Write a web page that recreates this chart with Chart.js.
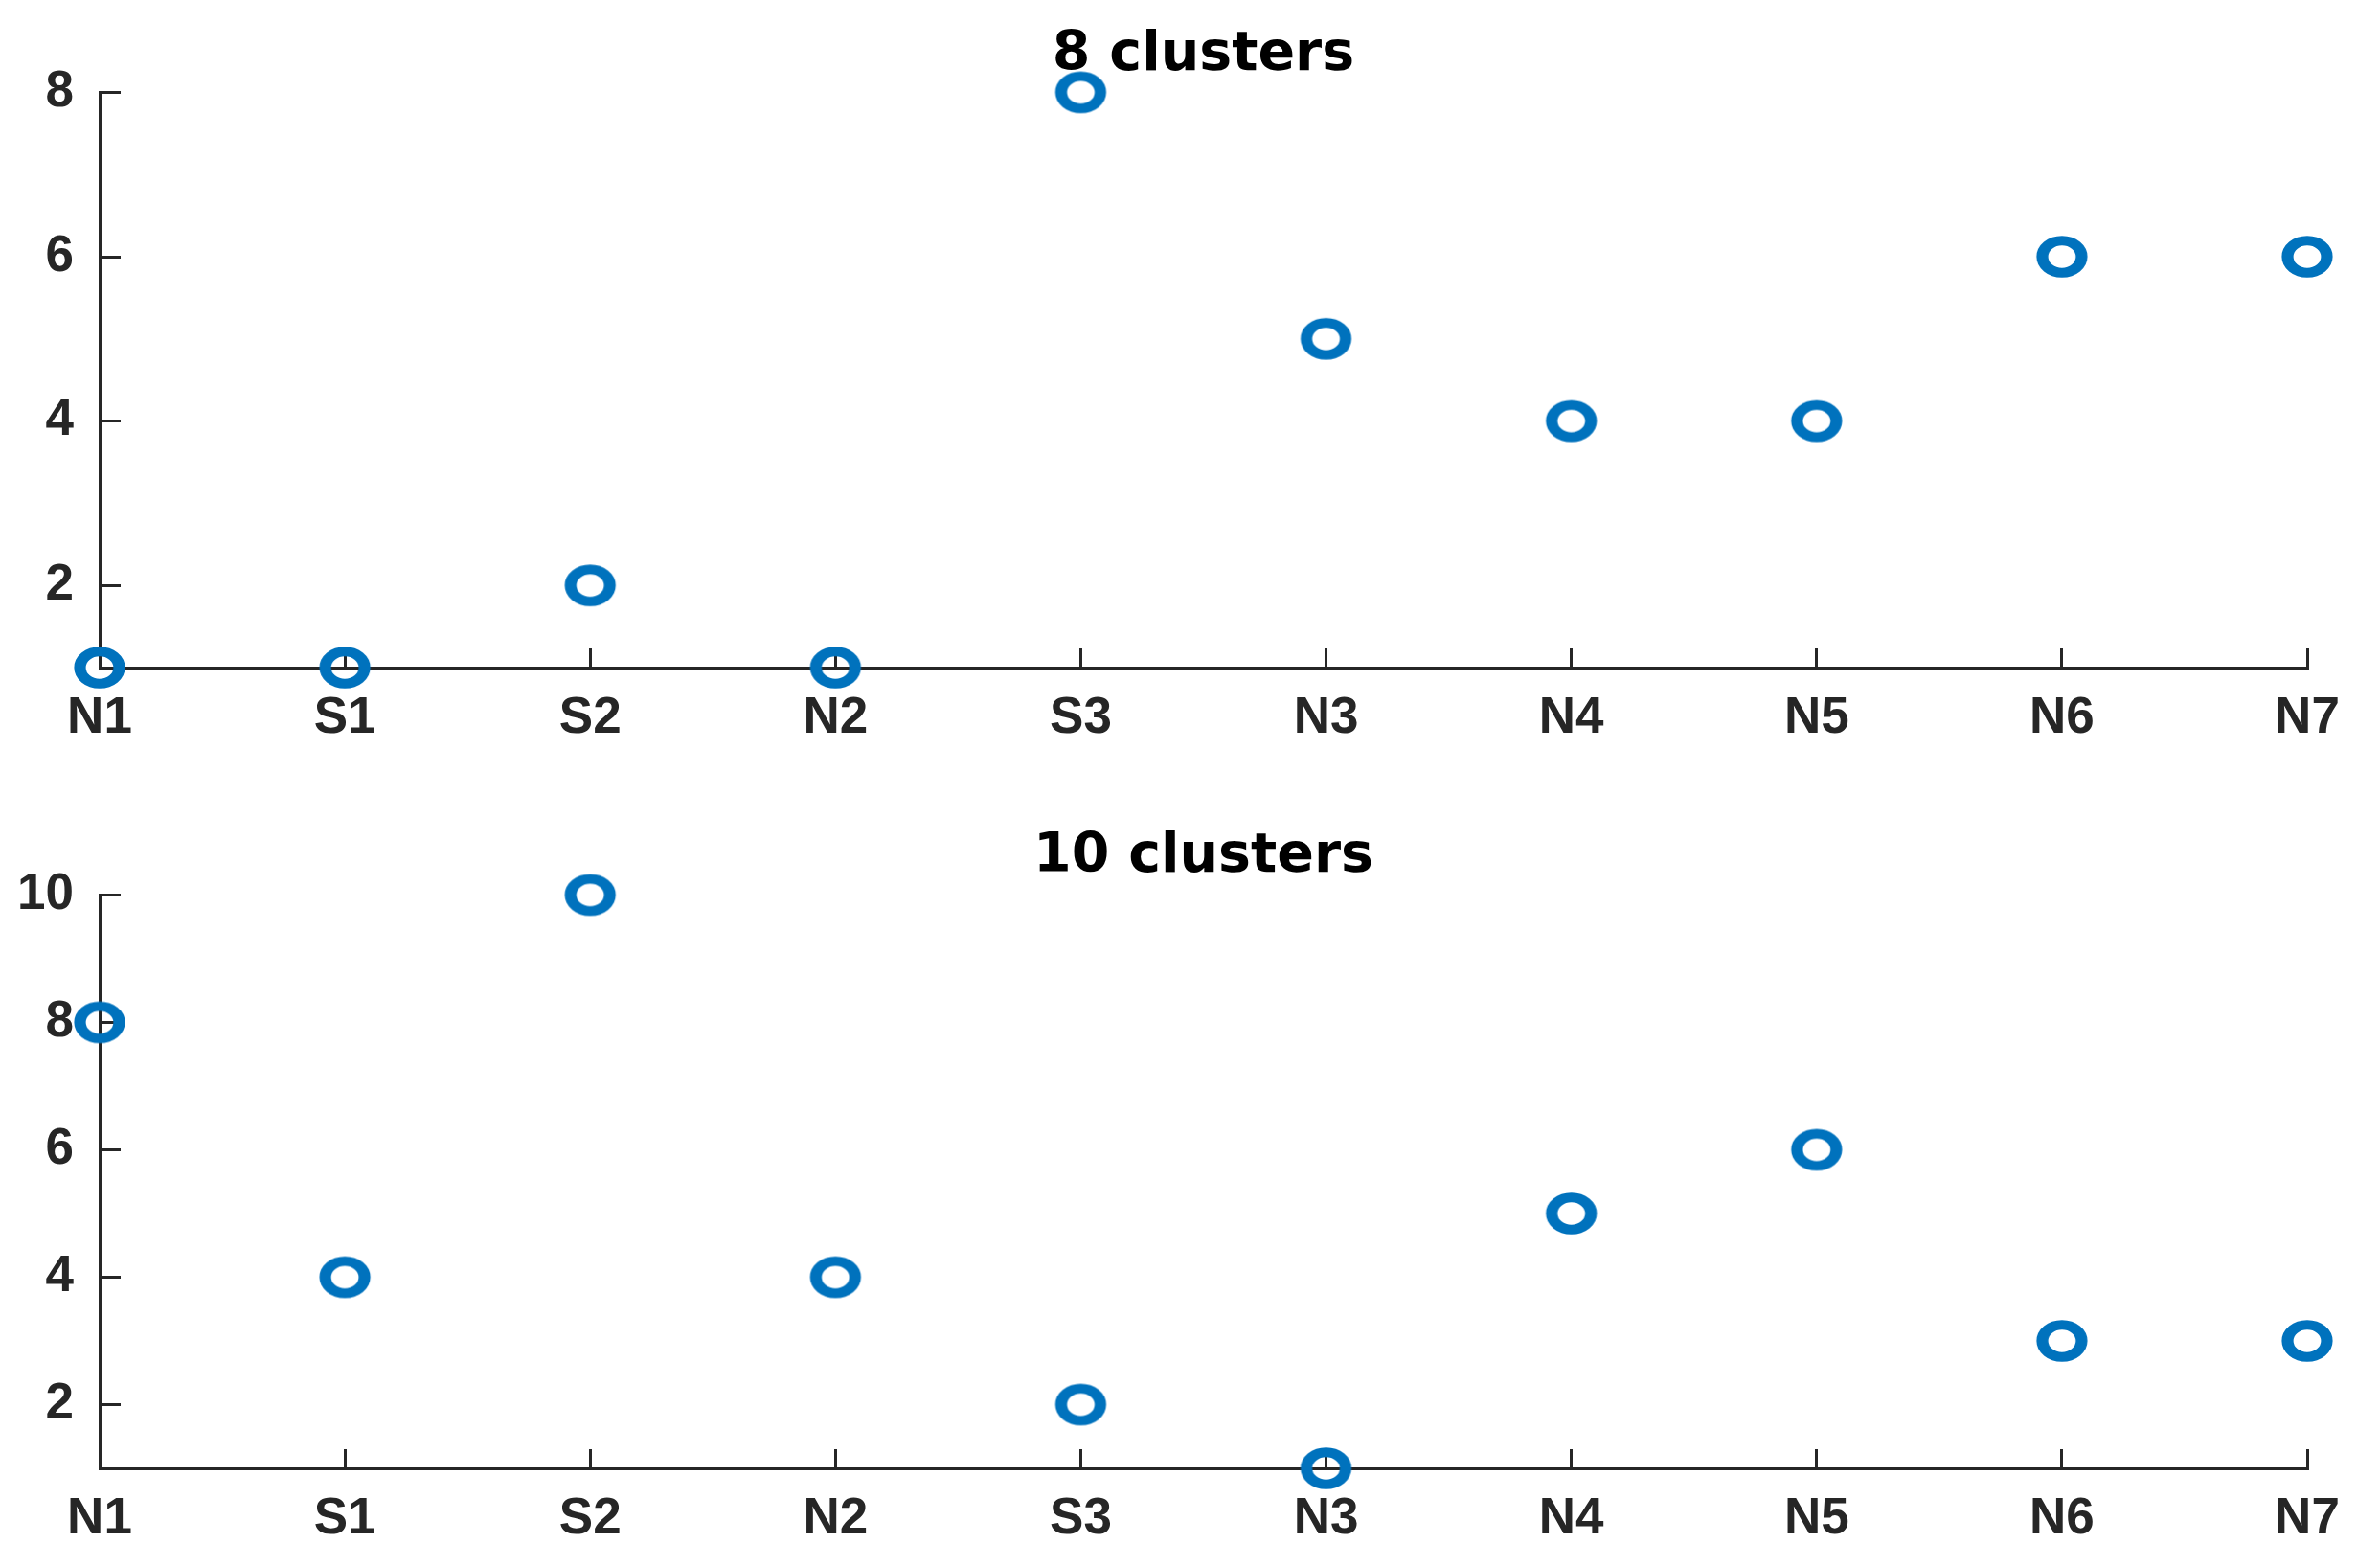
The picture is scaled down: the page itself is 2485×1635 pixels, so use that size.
<!DOCTYPE html>
<html>
<head>
<meta charset="utf-8">
<script src="https://cdn.jsdelivr.net/npm/chart.js@4.4.1/dist/chart.umd.min.js"></script>
<style>
  html, body { margin: 0; padding: 0; background: #fff; }
  .panel { position: absolute; left: 0; }
</style>
</head>
<body>
<div class="panel" style="top:0"><canvas id="top" width="2485" height="818"></canvas></div>
<div class="panel" style="top:818px"><canvas id="bottom" width="2485" height="817"></canvas></div>
<script>
// sites along the x axis
const sites = ['N1', 'S1', 'S2', 'N2', 'S3', 'N3', 'N4', 'N5', 'N6', 'N7'];
// cluster index per site
const clusters8 = [1, 1, 2, 1, 8, 5, 4, 4, 6, 6];
const clusters10 = [8, 4, 10, 4, 2, 1, 5, 6, 3, 3];
const yTicks8 = [2, 4, 6, 8];
const yTicks10 = [2, 4, 6, 8, 10];

const ink = '#262626';
const blue = '#0072BD';

// hollow, slightly wide ring like the matlab 'o' marker
function makeRing() {
  const c = document.createElement('canvas');
  c.width = 62; c.height = 50;
  const g = c.getContext('2d');
  g.translate(31, 25);
  g.scale(1.22, 1);
  g.beginPath();
  g.arc(0, 0, 16.8, 0, Math.PI * 2);
  g.lineWidth = 10;
  g.strokeStyle = blue;
  g.stroke();
  return c;
}
const ring = makeRing();

function makeChart(id, title, values, ticks, opts) {
  new Chart(document.getElementById(id), {
    type: 'line',
    data: {
      labels: sites,
      datasets: [{
        data: values,
        showLine: false,
        pointStyle: ring,
        pointRadius: 22,
        clip: false
      }]
    },
    options: {
      responsive: false,
      animation: false,
      layout: { padding: { left: 0, right: 76, top: 0, bottom: 0 } },
      plugins: {
        legend: { display: false },
        tooltip: { enabled: false },
        title: {
          display: true,
          text: title,
          fullSize: false,
          color: '#000',
          font: { family: 'DejaVu Sans', weight: 'bold', size: 57 },
          padding: { top: opts.titleTop, bottom: opts.titleBottom }
        }
      },
      scales: {
        x: {
          afterFit: (s) => { s.height = opts.xHeight; },
          grid: { drawOnChartArea: false, tickLength: -20, color: ink, lineWidth: 3 },
          border: { color: ink, width: 3 },
          ticks: {
            color: ink, padding: 42, maxRotation: 0, autoSkip: false,
            font: { family: 'Liberation Sans', weight: 'bold', size: 53 }
          }
        },
        y: {
          min: ticks[0] - 1,
          max: ticks[ticks.length - 1],
          afterFit: (s) => { s.width = 104; },
          afterBuildTicks: (s) => { s.ticks = ticks.map(v => ({ value: v })); },
          grid: { drawOnChartArea: false, tickLength: -22, color: ink, lineWidth: 3 },
          border: { color: ink, width: 3 },
          ticks: {
            color: ink, padding: 49,
            font: { family: 'Liberation Sans', weight: 'bold', size: 53 }
          }
        }
      }
    }
  });
}

makeChart('top', '8 clusters', clusters8, yTicks8, { titleTop: 24, titleBottom: 4, xHeight: 121 });
makeChart('bottom', '10 clusters', clusters10, yTicks10, { titleTop: 43, titleBottom: 5, xHeight: 102 });
</script>
</body>
</html>
